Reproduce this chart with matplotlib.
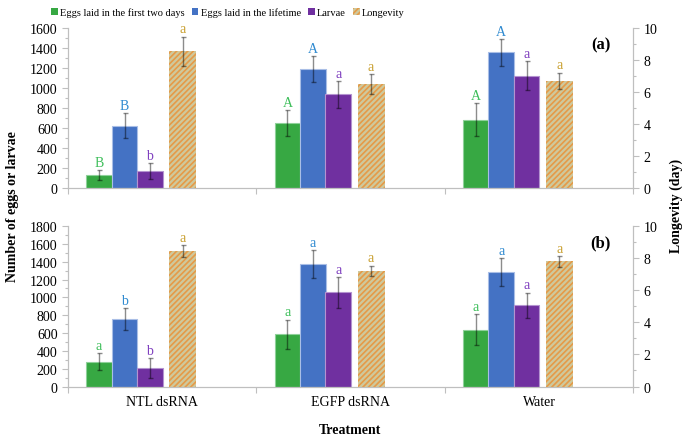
import numpy as np
import matplotlib
matplotlib.use("Agg")
import matplotlib.pyplot as plt
from matplotlib.patches import Patch
from matplotlib.ticker import MultipleLocator

plt.rcParams["font.family"] = ["Liberation Serif", "DejaVu Serif"]
plt.rcParams["hatch.linewidth"] = 1.2

treatments = ["NTL dsRNA", "EGFP dsRNA", "Water"]
series_names = ["Eggs laid in the first two days", "Eggs laid in the lifetime", "Larvae"]

# panel (a)
eggs2d_a = [130, 650, 680]
eggs2d_a_err = [48, 130, 165]
eggslife_a = [620, 1185, 1355]
eggslife_a_err = [125, 130, 135]
larvae_a = [170, 935, 1120]
larvae_a_err = [80, 135, 145]
longevity_a = [8.55, 6.5, 6.7]
longevity_a_err = [0.9, 0.6, 0.5]
letters_a = [["B", "A", "A"], ["B", "A", "A"], ["b", "a", "a"], ["a", "a", "a"]]

# panel (b)
eggs2d_b = [280, 585, 635]
eggs2d_b_err = [92, 165, 173]
eggslife_b = [755, 1375, 1280]
eggslife_b_err = [123, 155, 158]
larvae_b = [205, 1055, 910]
larvae_b_err = [112, 170, 144]
longevity_b = [8.45, 7.2, 7.8]
longevity_b_err = [0.36, 0.33, 0.33]
letters_b = [["a", "a", "a"], ["b", "a", "a"], ["b", "a", "a"], ["a", "a", "a"]]

bar_colors = ["#37A843", "#4472C4", "#7030A0"]
edge_colors = ["#8FD19A", "#A9BEE6", "#B493D0"]
letter_colors = ["#3DBE5A", "#2F8AD0", "#7F3FBF", "#C9A030"]
long_face = "#CFC99C"
long_hatch = "#E59A48"
spine_gray = "#BFBFBF"

fig = plt.figure(figsize=(6.85, 4.39), dpi=100)
x = np.arange(len(treatments))
offsets = [-0.335, -0.2, -0.066]
w = 0.136
w_long = 0.144
off_long = 0.109


def draw_panel(rect, ymax, ystep, eggs, errs, longv, long_err, letters, tag, show_x):
    ax = fig.add_axes(rect)
    ax2 = ax.twinx()
    for i in range(3):
        ax.bar(x + offsets[i], eggs[i], w, color=bar_colors[i],
               edgecolor=edge_colors[i], linewidth=0.8, zorder=2)
        ax.errorbar(x + offsets[i], eggs[i], yerr=errs[i], fmt="none",
                    ecolor="black", alpha=0.45, elinewidth=1, capsize=1.8,
                    capthick=1, zorder=3)
        for j in range(3):
            ax.annotate(letters[i][j], (x[j] + offsets[i], eggs[i][j] + errs[i][j]),
                        xytext=(0, 1), textcoords="offset points", ha="center",
                        va="bottom", fontsize=10, color=letter_colors[i])
    ax2.bar(x + off_long, longv, w_long, color=long_face, edgecolor=long_hatch,
            hatch="//////", linewidth=0, zorder=2)
    ax2.errorbar(x + off_long, longv, yerr=long_err, fmt="none", ecolor="black",
                 alpha=0.45, elinewidth=1, capsize=1.8, capthick=1, zorder=3)
    for j in range(3):
        ax2.annotate(letters[3][j], (x[j] + off_long, longv[j] + long_err[j]),
                     xytext=(0, 1), textcoords="offset points", ha="center",
                     va="bottom", fontsize=10, color=letter_colors[3])

    ax.set_xlim(-0.5, 2.5)
    ax.set_ylim(0, ymax)
    ax2.set_ylim(0, 10)
    ax.yaxis.set_major_locator(MultipleLocator(ystep))
    ax.yaxis.set_minor_locator(MultipleLocator(ystep / 2))
    ax2.yaxis.set_major_locator(MultipleLocator(2))
    ax2.yaxis.set_minor_locator(MultipleLocator(1))
    ax.set_xticks([-0.5, 0.5, 1.5, 2.5], minor=False)
    ax.set_xticklabels([])
    if show_x:
        ax.set_xticks(x, minor=True)
        ax.set_xticklabels(treatments, minor=True, fontsize=10)
        ax.tick_params(axis="x", which="minor", length=0, pad=6)
    for a in (ax, ax2):
        a.spines["top"].set_visible(False)
        for s in ("left", "right", "bottom"):
            a.spines[s].set_color(spine_gray)
        a.tick_params(axis="both", which="major", colors=spine_gray,
                      labelcolor="black", labelsize=10, length=4, width=0.8)
        a.tick_params(axis="y", which="minor", colors=spine_gray, length=2.5,
                      width=0.8)
    ax.tick_params(axis="x", which="major", length=4)
    ax.text(0.96, 0.9, tag, transform=ax.transAxes, ha="right", va="center",
            fontsize=12, fontweight="bold")
    return ax, ax2


draw_panel([0.0993, 0.5695, 0.825, 0.3645], 1600, 200,
           [eggs2d_a, eggslife_a, larvae_a],
           [eggs2d_a_err, eggslife_a_err, larvae_a_err],
           longevity_a, longevity_a_err, letters_a, "(a)", False)
draw_panel([0.0993, 0.1173, 0.825, 0.3656], 1800, 200,
           [eggs2d_b, eggslife_b, larvae_b],
           [eggs2d_b_err, eggslife_b_err, larvae_b_err],
           longevity_b, longevity_b_err, letters_b, "(b)", True)

fig.text(0.018, 0.53, "Number of eggs or larvae", rotation=90, ha="center",
         va="center", fontsize=10, fontweight="bold")
fig.text(0.987, 0.53, "Longevity (day)", rotation=90, ha="center",
         va="center", fontsize=10, fontweight="bold")
fig.text(0.511, 0.02, "Treatment", ha="center", va="center", fontsize=10,
         fontweight="bold")

handles = [Patch(facecolor=c) for c in bar_colors]
handles.append(Patch(facecolor=long_face, edgecolor=long_hatch, hatch="//////",
                     linewidth=0))
fig.legend(handles, series_names + ["Longevity"], loc="center",
           bbox_to_anchor=(0.333, 0.97), ncol=4, frameon=False, fontsize=7.5,
           handlelength=0.6, handleheight=0.6, handletextpad=0.25,
           columnspacing=0.7)

fig.savefig("out.png", dpi=100)
